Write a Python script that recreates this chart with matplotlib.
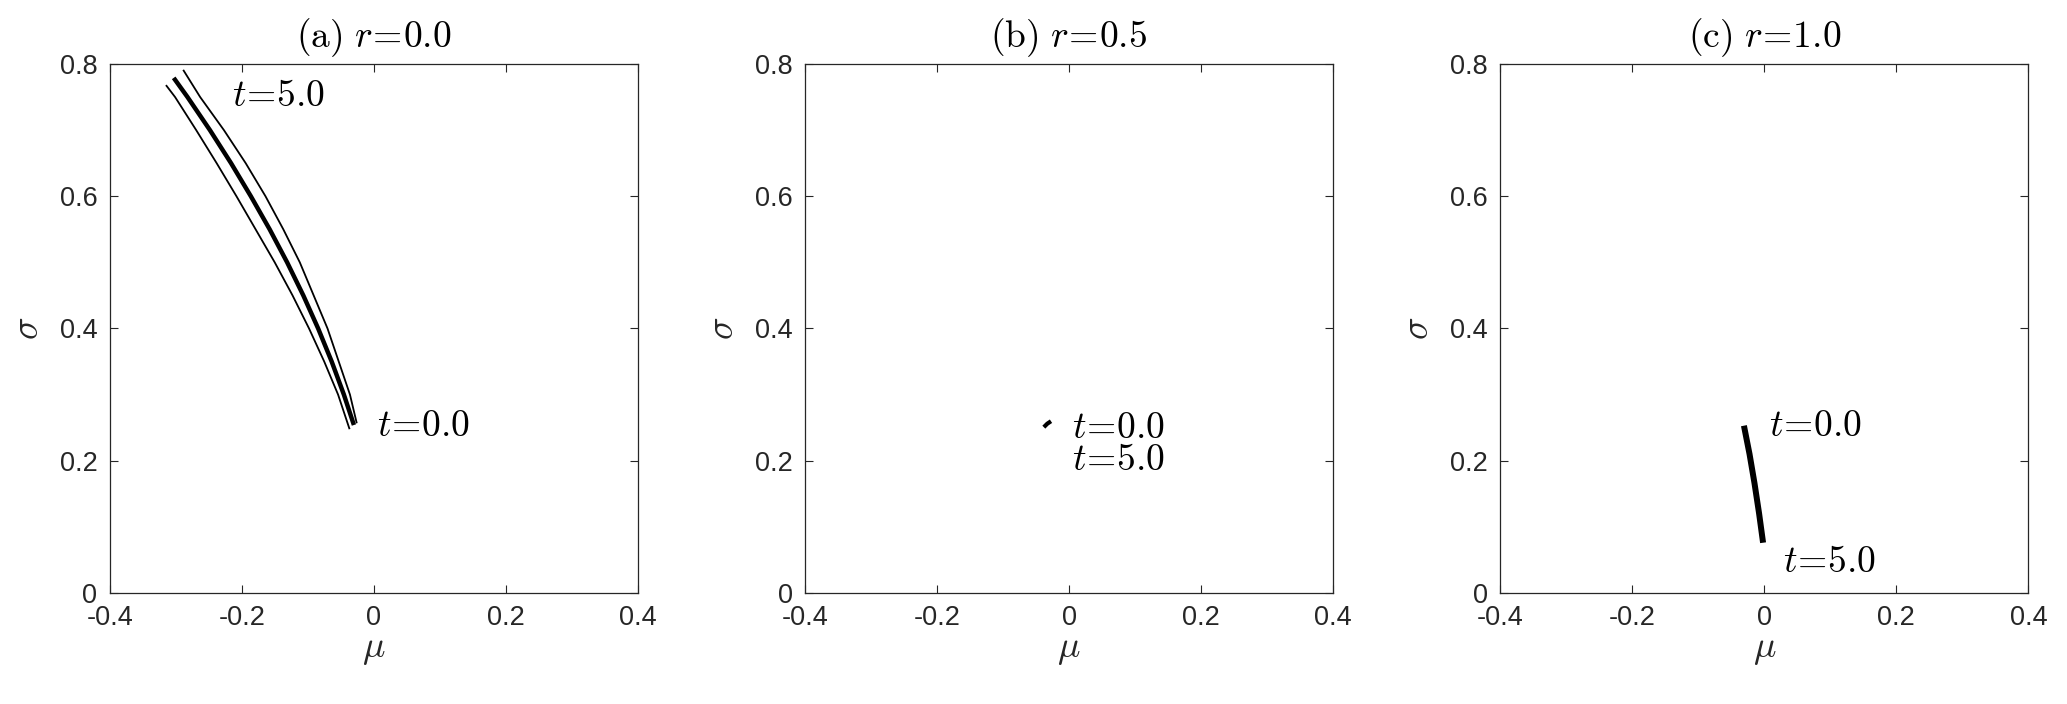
import numpy as np
import matplotlib.pyplot as plt

plt.rcParams["mathtext.fontset"] = "cm"
plt.rcParams["font.family"] = ["Liberation Sans", "DejaVu Sans"]

# (a) r=0.0 : three trajectories in the (mu, sigma) plane
a_mid_mu = [-0.3031, -0.2822, -0.2482, -0.2162, -0.1862, -0.1577, -0.1312, -0.1067,
            -0.0842, -0.0637, -0.0452, -0.030]
a_mid_sigma = [0.779, 0.75, 0.70, 0.65, 0.60, 0.55, 0.50, 0.45, 0.40, 0.35, 0.30, 0.254]
a_left_mu = [-0.314, -0.301, -0.269, -0.238, -0.208, -0.179, -0.150, -0.123,
             -0.098, -0.075, -0.054, -0.037]
a_left_sigma = [0.767, 0.75, 0.70, 0.65, 0.60, 0.55, 0.50, 0.45, 0.40, 0.35, 0.30, 0.249]
a_right_mu = [-0.288, -0.263, -0.227, -0.194, -0.164, -0.137, -0.112, -0.091,
              -0.070, -0.053, -0.036, -0.026]
a_right_sigma = [0.790, 0.75, 0.70, 0.65, 0.60, 0.55, 0.50, 0.45, 0.40, 0.35, 0.30, 0.258]

# (b) r=0.5 : barely moves
b_mu = [-0.036, -0.033, -0.030]
b_sigma = [0.253, 0.256, 0.258]

# (c) r=1.0
c_mu = [-0.031, -0.0225, -0.0150, -0.0080, -0.002]
c_sigma = [0.253, 0.210, 0.166, 0.120, 0.076]

titles = [r"$\mathrm{(a)}\ r\!=\!0.0$", r"$\mathrm{(b)}\ r\!=\!0.5$", r"$\mathrm{(c)}\ r\!=\!1.0$"]
xticks = [-0.4, -0.2, 0, 0.2, 0.4]
xticklabels = ["-0.4", "-0.2", "0", "0.2", "0.4"]
yticks = [0, 0.2, 0.4, 0.6, 0.8]
yticklabels = ["0", "0.2", "0.4", "0.6", "0.8"]

# label anchors (mu, sigma, text)
labels = [
    [(-0.215, 0.751, "5.0"), (0.005, 0.252, "0.0")],
    [(0.004, 0.249, "0.0"), (0.004, 0.201, "5.0")],
    [(0.007, 0.252, "0.0"), (0.028, 0.047, "5.0")],
]

fig = plt.figure(figsize=(20.67, 7.04), dpi=100)
lefts = [0.0531, 0.3895, 0.7259]
axes = [fig.add_axes([l, 0.1577, 0.2554, 0.7514]) for l in lefts]

ink = "#262626"
for i, ax in enumerate(axes):
    ax.set_xlim(-0.4, 0.4)
    ax.set_ylim(0, 0.8)
    ax.set_xticks(xticks)
    ax.set_xticklabels(xticklabels)
    ax.set_yticks(yticks)
    ax.set_yticklabels(yticklabels)
    ax.tick_params(direction="in", top=True, right=True, length=6, width=0.8,
                   colors=ink, labelsize=19.5, pad=9)
    for s in ax.spines.values():
        s.set_color(ink)
        s.set_linewidth(0.9)
    ax.set_xlabel(r"$\mu$", fontsize=27, color=ink, labelpad=0)
    ax.set_ylabel(r"$\sigma$", fontsize=27, color=ink, labelpad=10)
    ax.set_title(titles[i], fontsize=27, pad=12)
    for x, y, v in labels[i]:
        ax.text(x, y, r"$t\!=\!%s$" % v, fontsize=27, ha="left", va="center")

axes[0].plot(a_left_mu, a_left_sigma, color="black", lw=1.3)
axes[0].plot(a_right_mu, a_right_sigma, color="black", lw=1.3)
axes[0].plot(a_mid_mu, a_mid_sigma, color="black", lw=3.2, solid_capstyle="butt")
axes[1].plot(b_mu, b_sigma, color="black", lw=3.0)
axes[2].plot(c_mu, c_sigma, color="black", lw=4.3, solid_capstyle="butt")

fig.savefig("out.png", dpi=100)
